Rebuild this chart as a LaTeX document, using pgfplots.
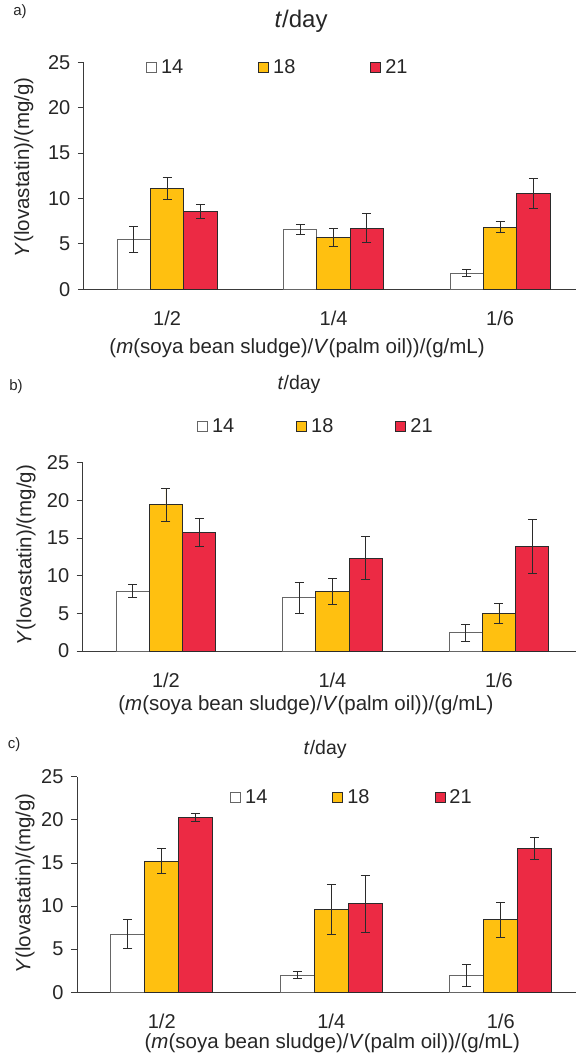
\documentclass[border=0pt]{standalone}
\usepackage{pgfplots}
\pgfplotsset{compat=1.18}
\usepackage{fontspec}
\setmainfont{Liberation Sans}
\definecolor{ylw}{HTML}{FFC010}
\definecolor{rd}{HTML}{EC2A44}
\definecolor{edge}{HTML}{2B2B2B}
\definecolor{axgray}{HTML}{3A3A3A}
\definecolor{txt}{HTML}{262626}
\newcommand{\fs}[1]{\fontsize{#1}{1.2\dimexpr#1\relax}\selectfont}
\pgfplotsset{
  panel/.style={
    scale only axis,
    ybar=0pt, bar width=0.2,
    xmin=-0.5, xmax=2.5, ymin=0, ymax=25,
    xtick={0,1,2}, xticklabels={1/2,1/4,1/6},
    ytick={0,5,10,15,20,25},
    axis x line*=bottom, axis y line*=left,
    axis line style={draw=axgray, line width=0.9bp},
    tick align=outside, major tick length=6bp,
    y tick style={draw=axgray, line width=0.9bp},
    x tick style={draw=none},
    /pgf/number format/assume math mode=true,
    ticklabel style={font=\fs{20bp}, text=txt},
    yticklabel style={xshift=-4bp},
    xticklabel style={yshift=-12bp},
    label style={font=\fs{20.5bp}, text=txt},
    legend style={draw=none, fill=none, inner sep=0pt, legend columns=3,
      font=\fs{20bp}, text=txt, nodes={inner sep=0pt, anchor=west},
      /tikz/every odd column/.append style={column sep=4bp}},
    legend cell align=left,
    error bars/y dir=both, error bars/y explicit,
    error bars/error bar style={draw=edge, line width=0.9bp},
    error bars/error mark options={draw=edge, line width=0.9bp, mark size=4.5bp, rotate=90},
  },
  lg/.style={legend image code/.code={\draw[##1, line width=0.9bp] (0bp,-5bp) rectangle (10bp,5bp);}},
  s14/.style={fill=white, draw=black!60, line width=0.9bp, lg},
  s18/.style={fill=ylw, draw=edge, line width=0.9bp, lg},
  s21/.style={fill=rd, draw=edge, line width=0.9bp, lg},
}
\begin{document}
\begin{tikzpicture}
\useasboundingbox (0,-1054bp) rectangle (576bp,0);
\node[font=\fs{15bp}, text=txt] at (20bp,-12bp) {a)};
\node[font=\fs{15bp}, text=txt] at (16bp,-387bp) {b)};
\node[font=\fs{15bp}, text=txt] at (14bp,-745bp) {c)};
% panel a
\begin{axis}[panel, at={(83.8bp,-289.3bp)}, anchor=south west,
  width=499.5bp, height=227bp,
  title={\textit{t}/day}, title style={at={(axis description cs:0.435,1.155)}, anchor=center, font=\fs{24bp}, text=txt},
  xlabel={(\textit{m}(soya bean sludge)/\textit{V}(palm oil))/(g/mL)},
  xlabel style={at={(axis description cs:0.427,-0.259)}, anchor=center},
  ylabel={\textit{Y}(lovastatin)/(mg/g)},
  ylabel style={at={(axis description cs:-0.12,0.537)}, anchor=center},
  legend style={at={(axis description cs:0.1245,0.979)}, anchor=west,
    /tikz/every even column/.append style={column sep=75bp}},
]
\addplot[s14, error bars/.cd, y dir=both, y explicit] coordinates {(0,5.5) +- (0,1.45) (1,6.6) +- (0,0.55) (2,1.8) +- (0,0.42)};
\addplot[s18, error bars/.cd, y dir=both, y explicit] coordinates {(0,11.1) +- (0,1.25) (1,5.7) +- (0,1.0) (2,6.85) +- (0,0.58)};
\addplot[s21, error bars/.cd, y dir=both, y explicit] coordinates {(0,8.6) +- (0,0.8) (1,6.75) +- (0,1.63) (2,10.55) +- (0,1.65)};
\legend{14,18,21}
\end{axis}
% panel b
\begin{axis}[panel, at={(82.7bp,-651bp)}, anchor=south west,
  width=499.5bp, height=188.3bp,
  title={\textit{t}/day}, title style={at={(axis description cs:0.433,1.386)}, anchor=center, font=\fs{19.5bp}, text=txt},
  xlabel={(\textit{m}(soya bean sludge)/\textit{V}(palm oil))/(g/mL)},
  xlabel style={at={(axis description cs:0.447,-0.287)}, anchor=center},
  ylabel={\textit{Y}(lovastatin)/(mg/g)},
  ylabel style={at={(axis description cs:-0.1135,0.51)}, anchor=center},
  legend style={at={(axis description cs:0.2288,1.195)}, anchor=west,
    /tikz/every even column/.append style={column sep=62bp}},
]
\addplot[s14, error bars/.cd, y dir=both, y explicit] coordinates {(0,7.95) +- (0,0.87) (1,7.05) +- (0,2.05) (2,2.4) +- (0,1.08)};
\addplot[s18, error bars/.cd, y dir=both, y explicit] coordinates {(0,19.4) +- (0,2.23) (1,7.85) +- (0,1.73) (2,4.95) +- (0,1.35)};
\addplot[s21, error bars/.cd, y dir=both, y explicit] coordinates {(0,15.8) +- (0,1.86) (1,12.3) +- (0,2.85) (2,13.9) +- (0,3.6)};
\legend{14,18,21}
\end{axis}
% panel c
\begin{axis}[panel, at={(77bp,-992.3bp)}, anchor=south west,
  width=508.5bp, height=215.6bp,
  title={\textit{t}/day}, title style={at={(axis description cs:0.488,1.10)}, anchor=center, font=\fs{19.5bp}, text=txt},
  xlabel={(\textit{m}(soya bean sludge)/\textit{V}(palm oil))/(g/mL)},
  xlabel style={at={(axis description cs:0.502,-0.235)}, anchor=center},
  ylabel={\textit{Y}(lovastatin)/(mg/g)},
  ylabel style={at={(axis description cs:-0.102,0.505)}, anchor=center},
  legend style={at={(axis description cs:0.301,0.906)}, anchor=west,
    /tikz/every even column/.append style={column sep=65bp}},
]
\addplot[s14, error bars/.cd, y dir=both, y explicit] coordinates {(0,6.75) +- (0,1.7) (1,2.0) +- (0,0.39) (2,1.95) +- (0,1.25)};
\addplot[s18, error bars/.cd, y dir=both, y explicit] coordinates {(0,15.2) +- (0,1.45) (1,9.6) +- (0,2.94) (2,8.4) +- (0,2.05)};
\addplot[s21, error bars/.cd, y dir=both, y explicit] coordinates {(0,20.3) +- (0,0.47) (1,10.25) +- (0,3.3) (2,16.65) +- (0,1.27)};
\legend{14,18,21}
\end{axis}
\end{tikzpicture}
\end{document}
